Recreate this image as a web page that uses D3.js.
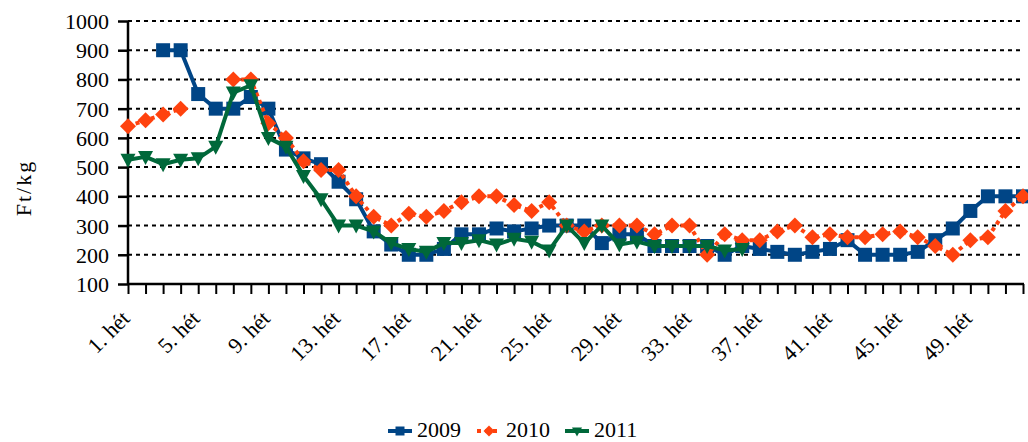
<!DOCTYPE html>
<html>
<head>
<meta charset="utf-8">
<script src="https://cdn.jsdelivr.net/npm/d3@7"></script>
<style>
  body { margin: 0; background: #fff; }
  text { font-family: "Liberation Serif", "DejaVu Serif", serif; fill: #000; }
</style>
</head>
<body>
<script>
// weeks 1..52
var weeks = d3.range(1, 53).map(function (w) { return w + ". hét"; });
var labelWeeks = [1, 5, 9, 13, 17, 21, 25, 29, 33, 37, 41, 45, 49];
var yTicks = [100, 200, 300, 400, 500, 600, 700, 800, 900, 1000];

var s2009 = [null, null, 900, 900, 750, 700, 700, 740, 700, 560,
  530, 510, 450, 390, 280, 235, 200, 200, 220, 270,
  270, 290, 280, 290, 300, 300, 300, 240, 270, 270,
  230, 230, 230, 230, 200, 230, 220, 210, 200, 210,
  220, 250, 200, 200, 200, 210, 250, 290, 350, 400,
  400, 400];
var s2010 = [640, 660, 680, 700, null, null, 800, 800, 650, 600,
  520, 490, 490, 400, 330, 300, 340, 330, 350, 380,
  400, 400, 370, 350, 380, 300, 280, 300, 300, 300,
  270, 300, 300, 200, 270, 250, 250, 280, 300, 260,
  270, 260, 260, 270, 280, 260, 230, 200, 250, 260,
  350, 400];
var s2011 = [525, 535, 510, 525, 530, 570, 755, 780, 600, 570,
  470, 390, 300, 300, 280, 240, 220, 210, 240, 240,
  250, 235, 255, 245, 215, 300, 240, 300, 235, 245,
  230, 230, 230, 230, 215, 220];

var series = [
  { name: "2009", values: s2009, color: "#004586", marker: "square", dash: null },
  { name: "2010", values: s2010, color: "#ff420e", marker: "diamond", dash: "4,4" },
  { name: "2011", values: s2011, color: "#00683a", marker: "triangle", dash: null }
];

var W = 1028, H = 442;
var plotL = 128, plotR = 1023, plotT = 21, plotB = 284;

var svg = d3.select("body").append("svg")
    .attr("width", W)
    .attr("height", H);

var x = d3.scalePoint()
    .domain(d3.range(weeks.length))
    .range([plotL, plotR]);
var y = d3.scaleLinear()
    .domain([100, 1000])
    .range([plotB, plotT]);

// dotted gridlines
svg.append("g").selectAll("line")
    .data(yTicks.filter(function (d) { return d > 100; }))
    .enter().append("line")
    .attr("x1", plotL).attr("x2", plotR)
    .attr("y1", function (d) { return y(d); })
    .attr("y2", function (d) { return y(d); })
    .attr("stroke", "#000")
    .attr("stroke-width", 2)
    .attr("stroke-dasharray", "4,4");

// y axis
var yAxis = svg.append("g")
    .attr("transform", "translate(" + plotL + ",0)")
    .call(d3.axisLeft(y).tickValues(yTicks).tickSize(10).tickPadding(9).tickFormat(d3.format("d")));
yAxis.select(".domain").attr("stroke-width", 2.5).attr("d", "M0," + plotT + "V" + plotB);
yAxis.selectAll(".tick line").attr("stroke-width", 2.5);
yAxis.selectAll(".tick text").attr("font-size", 22).attr("font-family", "Liberation Serif").attr("dy", "0.34em");

// x axis
var xAxis = svg.append("g")
    .attr("transform", "translate(0," + plotB + ")")
    .call(d3.axisBottom(x).tickSize(10).tickFormat(""));
xAxis.select(".domain").attr("stroke-width", 2.5).attr("d", "M" + plotL + ",0H" + (plotR + 1));
xAxis.selectAll(".tick line").attr("stroke-width", 2);

svg.append("g").selectAll("text")
    .data(labelWeeks)
    .enter().append("text")
    .attr("transform", function (d) {
      return "translate(" + (x(d - 1) + 3) + "," + 320 + ") rotate(-45)";
    })
    .attr("text-anchor", "end")
    .attr("font-size", 22)
    .text(function (d) { return weeks[d - 1]; });

svg.append("text")
    .attr("transform", "translate(31,188) rotate(-90)")
    .attr("text-anchor", "middle")
    .attr("font-size", 22)
    .attr("letter-spacing", 2)
    .text("Ft/kg");

function markerPath(type, s) {
  if (type === "square") return "M" + (-s) + "," + (-s) + "h" + 2 * s + "v" + 2 * s + "h" + (-2 * s) + "Z";
  if (type === "diamond") return "M0," + (-s - 1) + "L" + (s + 1) + ",0L0," + (s + 1) + "L" + (-s - 1) + ",0Z";
  return "M" + (-s - 0.5) + "," + (-s + 1) + "L" + (s + 0.5) + "," + (-s + 1) + "L0," + (s + 1) + "Z";
}

var line = d3.line()
    .defined(function (d) { return d != null; })
    .x(function (d, i) { return x(i); })
    .y(function (d) { return y(d); });

series.forEach(function (s) {
  var g = svg.append("g");
  g.append("path")
      .attr("d", line(s.values))
      .attr("fill", "none")
      .attr("stroke", s.color)
      .attr("stroke-width", 4)
      .attr("stroke-linejoin", "round")
      .attr("stroke-dasharray", s.dash);
  g.selectAll(".pt")
      .data(s.values.map(function (v, i) { return { v: v, i: i }; })
        .filter(function (d) { return d.v != null; }))
      .enter().append("path")
      .attr("transform", function (d) { return "translate(" + x(d.i) + "," + y(d.v) + ")"; })
      .attr("d", markerPath(s.marker, 7))
      .attr("fill", s.color);
});

// legend
var legendX = [388, 477, 565];
var legend = svg.append("g");
series.forEach(function (s, k) {
  var lx = legendX[k];
  legend.append("line")
      .attr("x1", lx).attr("x2", lx + 24)
      .attr("y1", 431).attr("y2", 431)
      .attr("stroke", s.color)
      .attr("stroke-width", 4)
      .attr("stroke-dasharray", s.dash);
  legend.append("path")
      .attr("transform", "translate(" + (lx + 12) + ",431)")
      .attr("d", markerPath(s.marker, 4.5))
      .attr("fill", s.color);
  legend.append("text")
      .attr("x", lx + 29)
      .attr("y", 437)
      .attr("font-size", 22)
      .text(s.name);
});
</script>
</body>
</html>
